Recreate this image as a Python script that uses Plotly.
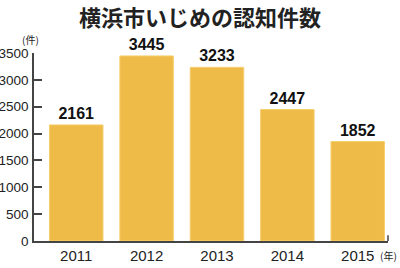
import plotly.graph_objects as go

years = ["2011", "2012", "2013", "2014", "2015"]
counts = [2161, 3445, 3233, 2447, 1852]
y_ticks = [0, 500, 1000, 1500, 2000, 2500, 3000, 3500]

bar_color = "#EFBB48"
font_tick = "Liberation Sans, Arial, sans-serif"

fig = go.Figure(go.Bar(
    x=years, y=counts,
    marker=dict(color=bar_color, line=dict(color="#F6CF6E", width=1)),
    width=0.76,
    text=[str(c) for c in counts],
    textposition="outside",
    textfont=dict(family=font_tick, size=16, color="#111111", weight="bold"),
    cliponaxis=False,
))

fig.update_layout(
    width=400, height=268,
    margin=dict(l=34, r=12, t=53, b=27, autoexpand=False),
    paper_bgcolor="white", plot_bgcolor="white",
    showlegend=False,
    title=dict(text="<b>横浜市いじめの認知件数</b>", x=0.5, xanchor="center",
               y=0.93, yanchor="middle",
               font=dict(family="Noto Sans CJK JP", size=22, color="#222222")),
    xaxis=dict(type="category", range=[-0.6, 4.43], showline=True, automargin=False,
               linecolor="#444444", linewidth=1.5, ticks="", showgrid=False,
               tickfont=dict(family=font_tick, size=15, color="#222222")),
    yaxis=dict(range=[0, 3500], tickvals=y_ticks, showline=True, automargin=False,
               linecolor="#444444", linewidth=1.5, ticks="inside", ticklen=8,
               tickcolor="#444444", tickwidth=1.5, showgrid=False, zeroline=False,
               ticklabelstandoff=1,
               tickfont=dict(family=font_tick, size=13.5, color="#222222")),
    annotations=[
        dict(text="(件)", x=-0.01, y=1.07, xref="paper", yref="paper", showarrow=False,
             xanchor="center", yanchor="middle",
             font=dict(family="Noto Sans CJK JP", size=10, color="#222222")),
        dict(text="(年)", x=1.0, y=-0.075, xref="paper", yref="paper", showarrow=False,
             xanchor="center", yanchor="middle",
             font=dict(family="Noto Sans CJK JP", size=10, color="#222222")),
    ],
)
fig.add_shape(type="line", xref="paper", yref="paper", x0=1, x1=1, y0=0, y1=0.03,
              line=dict(color="#444444", width=1.5))

fig.write_html("out.html")
